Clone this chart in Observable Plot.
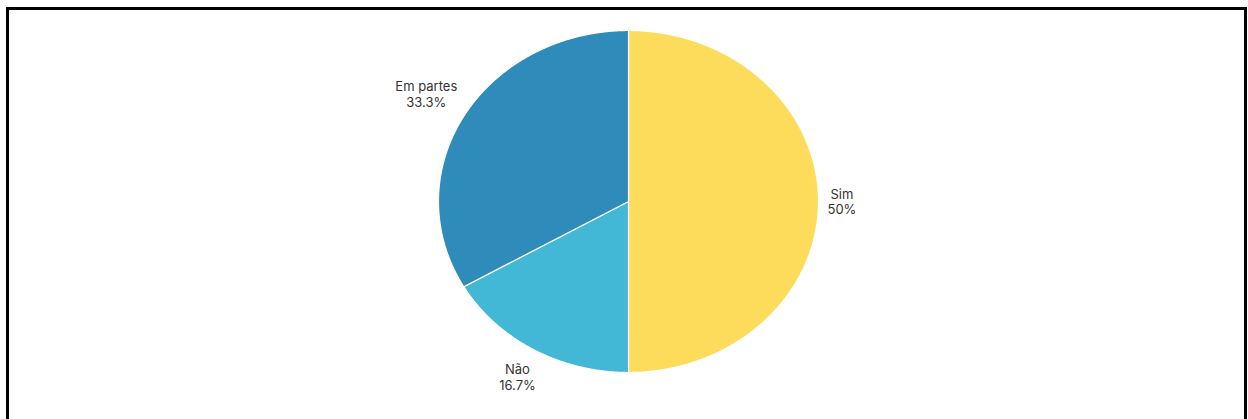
<!DOCTYPE html>
<html><head><meta charset="utf-8">
<script src="https://cdn.jsdelivr.net/npm/d3@7"></script>
<script src="https://cdn.jsdelivr.net/npm/@observablehq/plot@0.6"></script>
<style>
body{margin:0;background:#fff;}
#wrap{position:relative;width:1248px;height:419px;overflow:hidden;background:#fff;}
#frame{position:absolute;left:6px;top:7px;width:1241px;height:440px;border:3px solid #000;box-sizing:border-box;pointer-events:none;}
</style></head><body><div id="wrap"><div id="chart"></div><div id="frame"></div></div>
<script>
const categories = ["Sim", "Não", "Em partes"];
const values = [50, 16.7, 33.3];
const pctLabels = ["50%", "16.7%", "33.3%"];
const colors = ["#FDDB5B", "#42B8D6", "#2E8BBA"];

const W = 1248, H = 419;
const cx = 628, cy = 201, rx = 190, ry = 171;
const fontSize = 13, fontFamily = "Inter, 'Noto Sans', sans-serif";

const arcs = d3.pie().sort(null).value(d => d.v)(categories.map((c, i) => ({c, v: values[i], l: pctLabels[i], col: colors[i]})));

const ctx = document.createElement("canvas").getContext("2d");
ctx.font = `${fontSize}px Inter`;

const marks = [];
const labelData = [];
arcs.forEach(a => {
  const pts = [{x: 0, y: 0}];
  const n = Math.max(2, Math.ceil((a.endAngle - a.startAngle) / 0.005));
  for (let k = 0; k <= n; k++) {
    const t = a.startAngle + (a.endAngle - a.startAngle) * k / n;
    pts.push({x: Math.sin(t), y: Math.cos(t)});
  }
  pts.push({x: 0, y: 0});
  marks.push(Plot.line(pts, {x: "x", y: "y", fill: a.data.col, stroke: "#fff", strokeWidth: 1.2, curve: "linear"}));
  const mid = (a.startAngle + a.endAngle) / 2;
  const s = Math.sin(mid), c = Math.cos(mid);
  const text = a.data.c + "\n" + a.data.l;
  const w = Math.max(ctx.measureText(a.data.c).width, ctx.measureText(a.data.l).width);
  const h = fontSize * 1.2 * 2;
  const off = 9 + Math.abs(s) * w / 2 + Math.abs(c) * h / 2;
  const px = s * rx + s * off, py = -c * ry - c * off;
  labelData.push({x: px / rx, y: -py / ry, text});
});

marks.push(Plot.text(labelData, {x: "x", y: "y", text: "text", textAnchor: "middle", lineAnchor: "middle", lineHeight: 1.2, fontSize, fontFamily, fill: "#333"}));

const chart = Plot.plot({
  width: W, height: H,
  marginLeft: cx - rx, marginRight: W - (cx + rx),
  marginTop: cy - ry, marginBottom: H - (cy + ry),
  x: {domain: [-1, 1], axis: null},
  y: {domain: [-1, 1], axis: null},
  style: {background: "transparent", fontFamily},
  marks
});
document.getElementById("chart").appendChild(chart);
</script></body></html>
